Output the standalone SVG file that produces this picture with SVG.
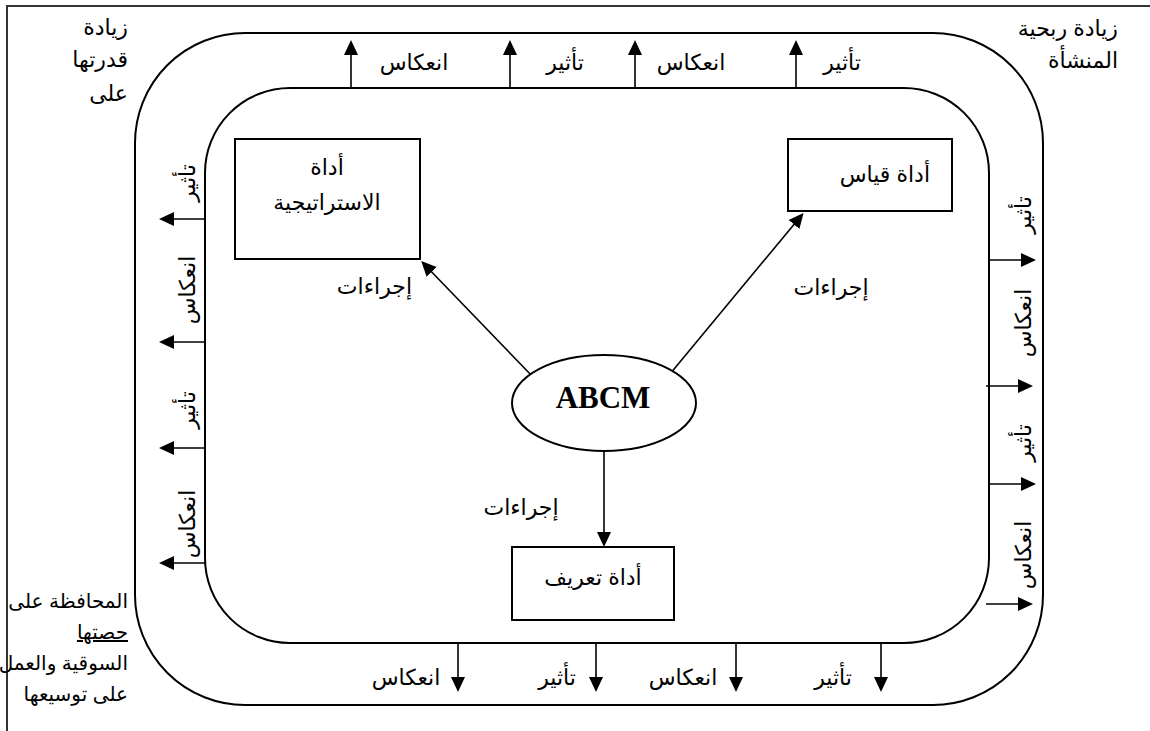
<svg xmlns="http://www.w3.org/2000/svg" width="1150" height="731" viewBox="0 0 1150 731">
<style>
.t{font-family:"Liberation Sans","DejaVu Sans",sans-serif;font-size:22px;fill:#000}
.s{font-size:20px}
.m{text-anchor:middle}
.e{text-anchor:end}
.ln{stroke:#000;stroke-width:2;fill:none}
.ar{stroke:#000;stroke-width:1.6;fill:none;marker-end:url(#ah)}
.box{stroke:#000;stroke-width:2;fill:#fff}
</style>
<defs>
<marker id="ah" markerUnits="userSpaceOnUse" markerWidth="16" markerHeight="16" refX="11" refY="7" orient="auto" viewBox="0 0 16 14">
<path d="M0,0 L15,7 L0,14 z" fill="#000"/>
</marker>
</defs>
<rect width="1150" height="731" fill="#fff"/>
<g id="frame">
<path d="M7,731 V6 H1150" stroke="#333" stroke-width="2" fill="none"/>
</g>
<g id="outer">
<rect class="ln" x="135" y="33" width="908" height="672" rx="110" ry="110"/>
</g>
<g id="inner">
<rect class="ln" x="205" y="88" width="784" height="555" rx="85" ry="85"/>
</g>
<g id="connectors">
<line class="ar" x1="351" y1="88" x2="351" y2="44"/>
<line class="ar" x1="510" y1="88" x2="510" y2="44"/>
<line class="ar" x1="635" y1="88" x2="635" y2="44"/>
<line class="ar" x1="796" y1="88" x2="796" y2="44"/>
<line class="ar" x1="458" y1="643" x2="458" y2="688"/>
<line class="ar" x1="596" y1="643" x2="596" y2="688"/>
<line class="ar" x1="736" y1="643" x2="736" y2="688"/>
<line class="ar" x1="881" y1="643" x2="881" y2="688"/>
<line class="ar" x1="205" y1="219" x2="163" y2="219"/>
<line class="ar" x1="205" y1="342" x2="163" y2="342"/>
<line class="ar" x1="205" y1="448" x2="163" y2="448"/>
<line class="ar" x1="205" y1="563" x2="163" y2="563"/>
<line class="ar" x1="989" y1="260" x2="1032" y2="260"/>
<line class="ar" x1="986" y1="386" x2="1029" y2="386"/>
<line class="ar" x1="989" y1="484" x2="1032" y2="484"/>
<line class="ar" x1="986" y1="604" x2="1029" y2="604"/>
<line class="ar" x1="534" y1="378" x2="424" y2="264"/>
<line class="ar" x1="665" y1="380" x2="801" y2="216"/>
<line class="ar" x1="604" y1="452" x2="604" y2="543"/>
</g>
<g id="strategy">
<rect class="box" x="235" y="139" width="185" height="120"/>
<text class="t m" x="327" y="175">أداة</text>
<text class="t m" x="327" y="210">الاستراتيجية</text>
</g>
<g id="measure">
<rect class="box" x="788" y="139" width="164" height="72"/>
<text class="t e" x="930" y="182">أداة قياس</text>
</g>
<g id="define">
<rect class="box" x="512" y="547" width="162" height="73"/>
<text class="t m" x="593" y="585">أداة تعريف</text>
</g>
<g id="abcm">
<ellipse class="box" cx="604" cy="403" rx="92" ry="48"/>
<text x="603" y="408" text-anchor="middle" font-family="Liberation Serif,serif" font-weight="bold" font-size="31">ABCM</text>
</g>
<g id="labels">
<text class="t e" x="412" y="294">إجراءات</text>
<text class="t m" x="831" y="295">إجراءات</text>
<text class="t m" x="521" y="515">إجراءات</text>
<text class="t m" x="414" y="70">انعكاس</text>
<text class="t m" x="565" y="70">تأثير</text>
<text class="t m" x="691" y="70">انعكاس</text>
<text class="t m" x="842" y="70">تأثير</text>
<text class="t m" x="406" y="685">انعكاس</text>
<text class="t m" x="557" y="685">تأثير</text>
<text class="t m" x="683" y="685">انعكاس</text>
<text class="t m" x="833" y="685">تأثير</text>
<text class="t m" transform="translate(195,183) rotate(-90)">تأثير</text>
<text class="t m" transform="translate(195,290) rotate(-90)">انعكاس</text>
<text class="t m" transform="translate(195,410) rotate(-90)">تأثير</text>
<text class="t m" transform="translate(195,524) rotate(-90)">انعكاس</text>
<text class="t m" transform="translate(1031,215) rotate(-90)">تأثير</text>
<text class="t m" transform="translate(1031,323) rotate(-90)">انعكاس</text>
<text class="t m" transform="translate(1031,443) rotate(-90)">تأثير</text>
<text class="t m" transform="translate(1031,555) rotate(-90)">انعكاس</text>
</g>
<g id="corner-tl">
<text class="t e" x="128" y="35">زيادة</text>
<text class="t e" x="128" y="67">قدرتها</text>
<text class="t e" x="128" y="101">على</text>
</g>
<g id="corner-tr">
<text class="t e" x="1118" y="36">زيادة ربحية</text>
<text class="t e" x="1118" y="68">المنشأة</text>
</g>
<g id="corner-bl">
<text class="t s e" x="128" y="608">المحافظة على</text>
<text class="t s e" x="128" y="639" text-decoration="underline">حصتها</text>
<text class="t s e" x="128" y="670">السوقية والعمل</text>
<text class="t s e" x="128" y="701">على توسيعها</text>
</g>
</svg>
